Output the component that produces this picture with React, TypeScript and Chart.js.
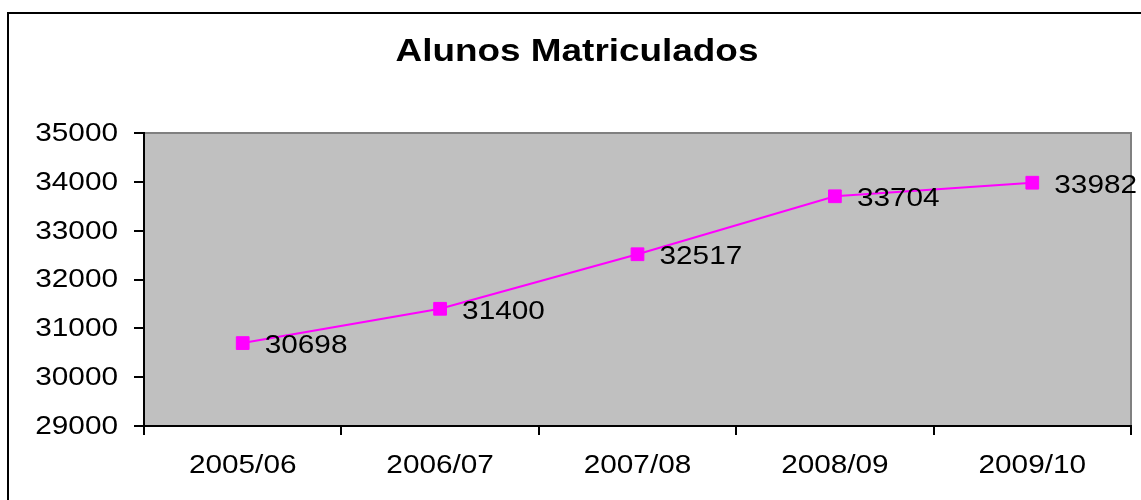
import React, { useEffect, useRef } from "react";
import { Chart, registerables } from "chart.js";

Chart.register(...registerables);

const categories = ["2005/06", "2006/07", "2007/08", "2008/09", "2009/10"];
const alunos = [30698, 31400, 32517, 33704, 33982];
const yMin = 29000;
const yMax = 35000;
const yStep = 1000;
const titleText = "Alunos Matriculados";

const FONT = "'Liberation Sans', Arial, sans-serif";
const SX = 1.19;

function drawText(ctx: any, text: string, x: number, y: number, align: string, font: string, baseline = "middle") {
  ctx.save();
  ctx.translate(x, y);
  ctx.scale(SX, 1);
  ctx.font = font;
  ctx.textAlign = align;
  ctx.textBaseline = baseline;
  ctx.fillStyle = "#000000";
  ctx.fillText(text, 0, 0);
  ctx.restore();
}

const decorPlugin = {
  id: "decor",
  beforeDraw(chart: any) {
    const { ctx, chartArea } = chart;
    ctx.save();
    ctx.fillStyle = "#ffffff";
    ctx.fillRect(0, 0, chart.width, chart.height);
    ctx.strokeStyle = "#000000";
    ctx.lineWidth = 2;
    ctx.beginPath();
    ctx.moveTo(8, chart.height + 5);
    ctx.lineTo(8, 13);
    ctx.lineTo(chart.width + 5, 13);
    ctx.stroke();
    ctx.fillStyle = "#C0C0C0";
    ctx.fillRect(chartArea.left, chartArea.top, chartArea.right - chartArea.left, chartArea.bottom - chartArea.top);
    ctx.strokeStyle = "#808080";
    ctx.lineWidth = 2;
    ctx.beginPath();
    ctx.moveTo(chartArea.left, chartArea.top);
    ctx.lineTo(chartArea.right, chartArea.top);
    ctx.lineTo(chartArea.right, chartArea.bottom);
    ctx.stroke();
    ctx.restore();
    drawText(ctx, titleText, 577, 61, "center", `bold 31px ${FONT}`, "alphabetic");
  },
  afterDraw(chart: any) {
    const { ctx } = chart;
    const ys = chart.scales.y;
    const xs = chart.scales.x;
    const f = `25px ${FONT}`;
    for (let v = yMin; v <= yMax; v += yStep) {
      drawText(ctx, String(v), 118, ys.getPixelForValue(v) + 1, "right", f, "middle");
    }
    categories.forEach((c, i) => {
      drawText(ctx, c, xs.getPixelForValue(i), 473, "center", f, "alphabetic");
    });
    const meta = chart.getDatasetMeta(0);
    meta.data.forEach((pt: any, i: number) => {
      drawText(ctx, String(alunos[i]), pt.x + 22, pt.y + 3, "left", f, "middle");
    });
  },
};

export default function App() {
  const ref = useRef<HTMLCanvasElement>(null);
  useEffect(() => {
    document.body.style.margin = "0";
    const chart = new Chart(ref.current!, {
      type: "line",
      data: {
        labels: categories,
        datasets: [
          {
            data: alunos,
            borderColor: "#FF00FF",
            backgroundColor: "#FF00FF",
            borderWidth: 2,
            pointStyle: "rect",
            pointRadius: 9,
            pointBorderWidth: 1,
            pointBackgroundColor: "#FF00FF",
            pointBorderColor: "#FF00FF",
            tension: 0,
          },
        ],
      },
      options: {
        animation: false,
        responsive: false,
        maintainAspectRatio: false,
        layout: { padding: { left: 0, top: 133, right: 10, bottom: 0 } },
        plugins: {
          legend: { display: false },
          title: { display: false },
          tooltip: { enabled: false },
        },
        scales: {
          x: {
            type: "category",
            offset: true,
            grid: {
              offset: true,
              drawOnChartArea: false,
              drawTicks: true,
              tickLength: 9,
              color: "#000000",
              lineWidth: 2,
            },
            border: { display: true, color: "#000000", width: 2 },
            ticks: { display: false },
            afterFit(scale: any) {
              scale.height = 74;
            },
          },
          y: {
            min: yMin,
            max: yMax,
            grid: {
              drawOnChartArea: false,
              drawTicks: true,
              tickLength: 10,
              color: "#000000",
              lineWidth: 2,
            },
            border: { display: true, color: "#000000", width: 2 },
            ticks: { display: false, stepSize: yStep },
            afterFit(scale: any) {
              scale.width = 144;
            },
          },
        },
      },
      plugins: [decorPlugin],
    });
    return () => chart.destroy();
  }, []);
  return (
    <div style={{ position: "absolute", left: 0, top: 0, width: 1141, height: 500 }}>
      <canvas ref={ref} width={1141} height={500} style={{ width: 1141, height: 500, display: "block" }} />
    </div>
  );
}
